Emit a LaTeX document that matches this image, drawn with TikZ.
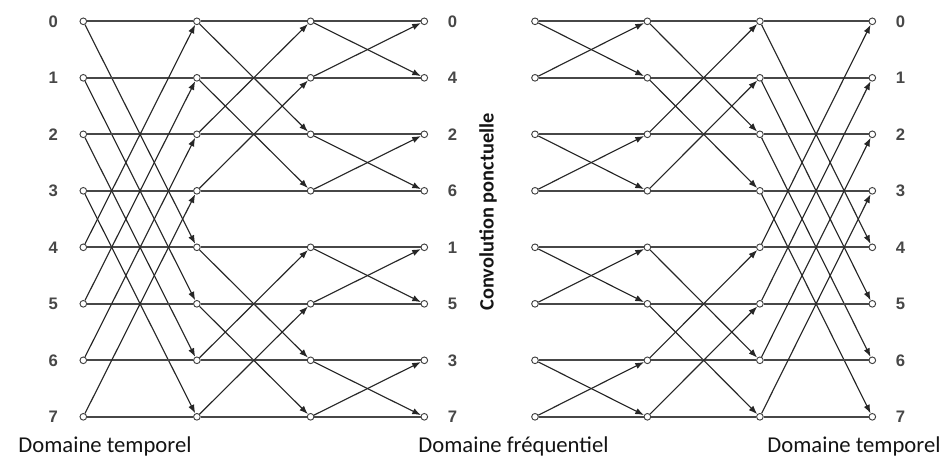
\documentclass[tikz,border=0pt]{standalone}
\usepackage{fontspec}
\setmainfont{Carlito}
\newfontfamily\digitfont{Liberation Sans}
\usetikzlibrary{arrows.meta}
\usetikzlibrary{positioning}

\tikzset{
  pt/.style={circle, draw=black!75, fill=white, line width=0.7pt, inner sep=0pt, minimum size=5pt},
  hline/.style={draw=black!72, line width=1.4pt},
  dline/.style={draw=black!85, line width=0.85pt, -{Latex[length=6.5pt,width=4.8pt]}},
  num/.style={font=\digitfont\bfseries\fontsize{12.5}{13}\selectfont, text=black!72, inner sep=0pt},
  dom/.style={font=\fontsize{17}{20}\selectfont, text=black!92, anchor=base},
}

\begin{document}
\begin{tikzpicture}[x=0.75pt,y=-0.75pt]
\useasboundingbox (0,0) rectangle (947,457);

% points of the two networks
\foreach \r in {0,...,7}{
  \foreach \c/\x in {0/83.3,1/196.9,2/310.6,3/424.3}
    \node[pt] (a-\c-\r) at (\x,21.3+56.5*\r) {};
  \foreach \c/\x in {0/535,1/647.4,2/759.9,3/872.3}
    \node[pt] (b-\c-\r) at (\x,21.3+56.5*\r) {};
}

% butterflies, left network: spans 4, 2, 1
\foreach \s/\d in {0/4,1/2,2/1}{
  \pgfmathtruncatemacro\t{\s+1}
  \foreach \r in {0,...,7}{
    \pgfmathtruncatemacro\p{mod(floor(\r/\d),2)==0 ? \r+\d : \r-\d}
    \draw[hline] (a-\s-\r) -- (a-\t-\r);
    \draw[dline] (a-\s-\r) -- (a-\t-\p);
  }
}

% butterflies, right network: spans 1, 2, 4
\foreach \s/\d in {0/1,1/2,2/4}{
  \pgfmathtruncatemacro\t{\s+1}
  \foreach \r in {0,...,7}{
    \pgfmathtruncatemacro\p{mod(floor(\r/\d),2)==0 ? \r+\d : \r-\d}
    \draw[hline] (b-\s-\r) -- (b-\t-\r);
    \draw[dline] (b-\s-\r) -- (b-\t-\p);
  }
}

% indices
\foreach \r in {0,...,7}{
  \node[num, left=16pt of a-0-\r] (in-\r) {\r};
  \node[num, right=14.7pt of b-3-\r] (out-\r) {\r};
}
\foreach \r/\k in {0/0,1/4,2/2,3/6,4/1,5/5,6/3,7/7}
  \node[num, right=14.7pt of a-3-\r] (mid-\r) {\k};

\node[font=\bfseries\fontsize{15.3}{18}\selectfont, text=black!92, rotate=90] (conv) at (488,212) {Convolution ponctuelle};

\node[dom] (dom-t1) at (105,452) {Domaine temporel};
\node[dom] (dom-f) at (513.5,452) {Domaine fréquentiel};
\node[dom] (dom-t2) at (854,452) {Domaine temporel};
\end{tikzpicture}
\end{document}
